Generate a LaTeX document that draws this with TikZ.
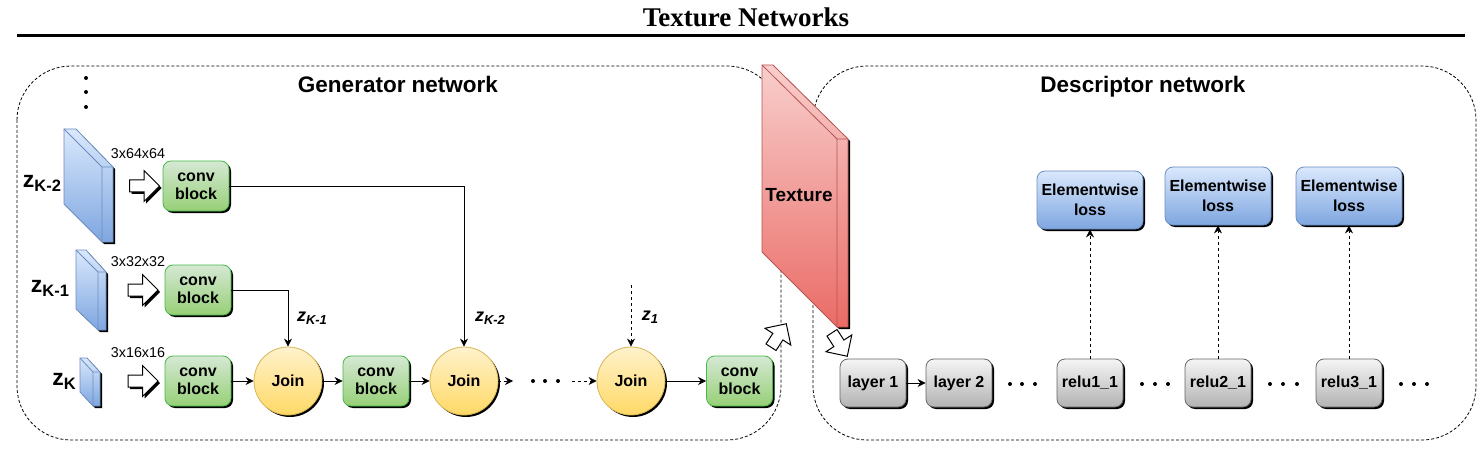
\documentclass[tikz,border=0pt]{standalone}
\usepackage{fontspec}
\setmainfont{Liberation Sans}
\newfontfamily\titlefont{Liberation Serif}
\usetikzlibrary{arrows.meta,shadows,shapes.arrows}
\definecolor{blueedge}{HTML}{6C8EBF}
\definecolor{redTop}{HTML}{F8CECC}
\definecolor{redBot}{HTML}{EA6B66}
\definecolor{rededge}{HTML}{B85450}
\begin{document}
\begin{tikzpicture}[x=0.5pt, y=-0.5pt, >={Stealth[length=4pt,width=4pt]},
    hardshadow/.style={general shadow={fill=black, shadow xshift=1pt, shadow yshift=-1pt}},
    block/.style={rounded corners=4pt, line width=0.4pt, inner sep=0pt, align=center, hardshadow,
        font=\bfseries\fontsize{8}{9}\selectfont},
    convblock/.style={block, draw=green!45!gray, top color={rgb,255:red,213;green,232;blue,212},
        bottom color={rgb,255:red,151;green,208;blue,119}, minimum width=33pt, minimum height=25pt},
    grayblock/.style={block, draw=black!60, top color=black!4, bottom color=black!30,
        minimum width=33pt, minimum height=24pt},
    lossblock/.style={block, draw=blueedge, top color={rgb,255:red,218;green,232;blue,252},
        bottom color={rgb,255:red,126;green,166;blue,224}, minimum width=53pt, minimum height=29pt,
        font=\bfseries\fontsize{8}{10}\selectfont},
    joinnode/.style={circle, draw={rgb,255:red,214;green,182;blue,86}, line width=0.4pt, inner sep=0pt,
        top color={rgb,255:red,255;green,242;blue,204}, bottom color={rgb,255:red,255;green,217;blue,102},
        minimum size=34pt, hardshadow, font=\bfseries\fontsize{8}{9}\selectfont},
    hollowarrow/.style={single arrow, draw=black, fill=white, line width=0.5pt, inner xsep=0pt, inner ysep=2.75pt,
        minimum height=15pt, minimum width=15pt, single arrow head extend=4.7pt,
        single arrow head indent=0pt},
    netbox/.style={line width=0.4pt, dash pattern=on 1.5pt off 1pt, rounded corners=27pt},
    conn/.style={->, line width=0.4pt},
    dashconn/.style={->, line width=0.4pt, dash pattern=on 1.5pt off 1.5pt},
    nettitle/.style={anchor=base, font=\bfseries\fontsize{11.25}{13}\selectfont},
    zbig/.style={font=\bfseries\fontsize{11.5}{12}\selectfont},
    zsmall/.style={font=\bfseries\itshape\fontsize{9}{10}\selectfont},
    sizelabel/.style={font=\fontsize{7.15}{8}\selectfont}]
    \useasboundingbox (0,0) rectangle (1484,449);

    % Title
    \node[font=\titlefont\bfseries\fontsize{13.5}{15}\selectfont] (title) at (746,17) {Texture Networks};
    \draw[line width=1.5pt] (17,36) -- (1465,36);

    % Dashed frames
    \draw[netbox] (17,66) rectangle (781,440);
    \draw[netbox] (813,66) rectangle (1476,440);
    \node[nettitle] (gentitle) at (398,93) {Generator network};
    \node[nettitle] (desctitle) at (1143,93) {Descriptor network};

    % Noise volumes
    \foreach \xa/\xb/\xc/\xd/\ya/\yb/\yc/\yd in {64/76/102/113/129/167/204/242, 76/86/98/106/250/272/309/330, 80/87/93/100/358/372/392/406} {
        \draw[hardshadow, draw=blueedge, line width=0.4pt, top color={rgb,255:red,218;green,232;blue,252},
            bottom color={rgb,255:red,126;green,166;blue,224}]
            (\xa,\ya) -- (\xb,\ya) -- (\xd,\yb) -- (\xd,\yd) -- (\xc,\yd) -- (\xa,\yc) -- cycle;
        \draw[blueedge, line width=0.4pt] (\xa,\ya) -- (\xc,\yb) -- (\xc,\yd) (\xc,\yb) -- (\xd,\yb);
    }
    \node[zbig] (zktwo) at (42,183) {z\raisebox{-2pt}{\fontsize{8.25}{9}\selectfont K-2}};
    \node[zbig] (zkone) at (50,288) {z\raisebox{-2pt}{\fontsize{8.25}{9}\selectfont K-1}};
    \node[zbig] (zk) at (64,381) {z\raisebox{-2pt}{\fontsize{8.25}{9}\selectfont K}};

    % Vertical dots
    \foreach \y in {78,92,107} \fill (86,\y) circle (1pt);

    % Size labels and input arrows
    \node[sizelabel] (sizetwo) at (138,154) {3x64x64};
    \node[sizelabel] (sizeone) at (138,262) {3x32x32};
    \node[sizelabel] (sizezero) at (138,353) {3x16x16};
    \node[hollowarrow, hardshadow] (inarrowtwo) at (141.5,186) {};
    \node[hollowarrow, hardshadow] (inarrowone) at (140,290) {};
    \node[hollowarrow, hardshadow] (inarrowzero) at (140,381) {};

    % Generator blocks
    \node[convblock] (cbtwo) at (196,186) {conv\\block};
    \node[convblock] (cbone) at (198,290) {conv\\block};
    \node[convblock] (cbzero) at (198,381) {conv\\block};
    \node[joinnode] (joinone) at (288,381) {Join};
    \node[convblock] (cbmid) at (376,381) {conv\\block};
    \node[joinnode] (jointwo) at (464,381) {Join};
    \node[joinnode] (jointhree) at (631,381) {Join};
    \node[convblock] (cblast) at (739.5,381) {conv\\block};

    % Generator connections
    \draw[conn] (cbtwo.east) -| (jointwo.north);
    \draw[conn] (cbone.east) -| (joinone.north);
    \draw[conn] (cbzero) -- (joinone);
    \draw[conn] (joinone) -- (cbmid);
    \draw[conn] (cbmid) -- (jointwo);
    \draw[conn] (jointhree) -- (cblast);
    \coordinate (dotsleft) at (513,381);
    \coordinate (dotsright) at (572,381);
    \coordinate (zonestart) at (631,285);
    \draw[dashconn] (jointwo) -- (dotsleft);
    \draw[dashconn] (dotsright) -- (jointhree);
    \draw[dashconn] (zonestart) -- (jointhree);
    \foreach \x in {533,545,558} \fill (\x,381) circle (1pt);

    \node[zsmall] (labkone) at (312,318) {z\raisebox{-1.5pt}{\fontsize{6.5}{7}\selectfont K-1}};
    \node[zsmall] (labktwo) at (490,318) {z\raisebox{-1.5pt}{\fontsize{6.5}{7}\selectfont K-2}};
    \node[zsmall] (labzone) at (650,317) {z\raisebox{-1.5pt}{\fontsize{6.5}{7}\selectfont 1}};

    % Texture volume
    \draw[hardshadow, draw=rededge, line width=0.4pt, top color=redTop, bottom color=redBot]
        (762,65) -- (773,65) -- (848,139) -- (848,327) -- (837,327) -- (762,252) -- cycle;
    \draw[rededge, line width=0.4pt] (762,65) -- (837,139) -- (837,327) (837,139) -- (848,139);
    \node[font=\bfseries\fontsize{9.5}{11}\selectfont] (texture) at (799,195) {Texture};
    \node[hollowarrow, minimum height=14pt, rotate=57] (outarrow) at (777,338) {};
    \node[hollowarrow, minimum height=14pt, rotate=-57] (descarrow) at (838,342) {};

    % Descriptor blocks
    \node[grayblock] (layerone) at (873,383) {layer 1};
    \node[grayblock] (layertwo) at (959,383) {layer 2};
    \node[grayblock] (reluone) at (1090,383) {relu1\_1};
    \node[grayblock] (relutwo) at (1218,383) {relu2\_1};
    \node[grayblock] (reluthree) at (1349,383) {relu3\_1};
    \node[lossblock] (lossone) at (1090,200) {Elementwise\\loss};
    \node[lossblock] (losstwo) at (1218,196) {Elementwise\\loss};
    \node[lossblock] (lossthree) at (1349,196) {Elementwise\\loss};

    % Descriptor connections
    \draw[conn] (layerone) -- (layertwo);
    \draw[dashconn] (reluone) -- (lossone);
    \draw[dashconn] (relutwo) -- (losstwo);
    \draw[dashconn] (reluthree) -- (lossthree);
    \foreach \x in {1010,1022,1035,1142,1155,1168,1270,1283,1297,1401,1414,1427} \fill (\x,384) circle (1pt);
\end{tikzpicture}
\end{document}
